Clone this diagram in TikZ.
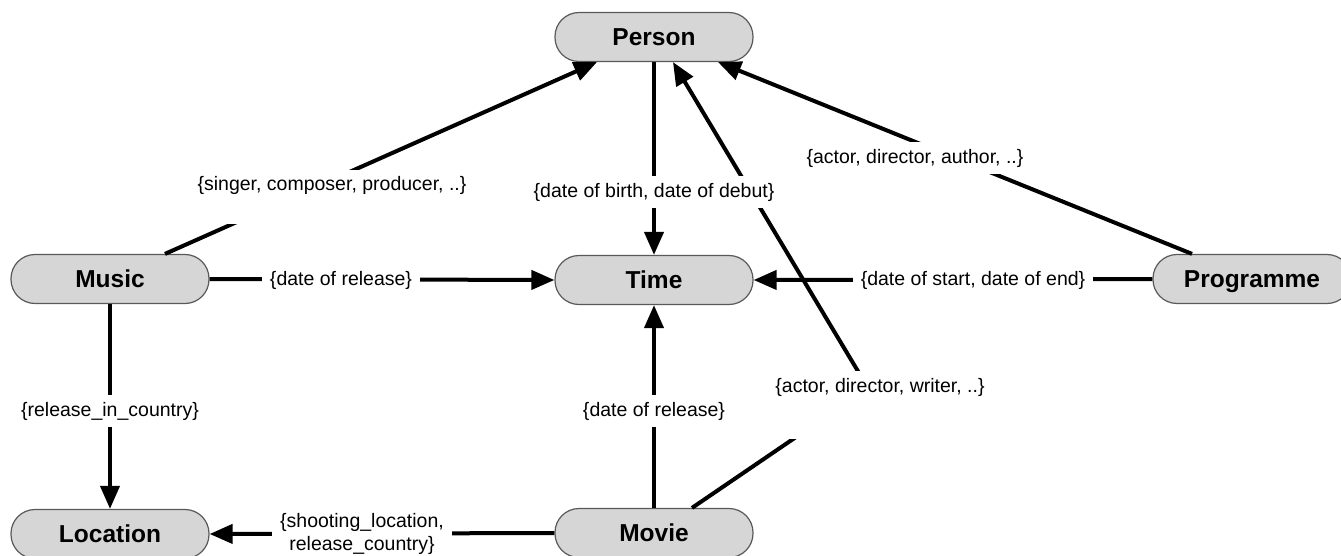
\documentclass[tikz,border=0pt]{standalone}
\usepackage{fontspec}
\setmainfont{Liberation Sans}
\usetikzlibrary{arrows.meta}
\begin{document}
\begin{tikzpicture}[x=1pt,y=-1pt,
  ent/.style={draw=black!65, line width=1.2pt, fill=black!16, rounded corners=24pt,
    minimum width=198pt, minimum height=49pt, inner sep=0pt, text height=17.5pt, text depth=0pt,
    font=\fontsize{24.5}{28}\selectfont\bfseries},
  lbl/.style={fill=white, font=\fontsize{19.5}{23}\selectfont, inner xsep=8pt, inner ysep=7pt, align=center},
  conn/.style={line width=4pt, -{Triangle[length=23pt,width=19pt]}}]
\useasboundingbox (0,0) rectangle (1341,556);
% entities
\node[ent] (person) at (654,37) {Person};
\node[ent] (music) at (110,279) {Music};
\node[ent] (time) at (654,280) {Time};
\node[ent] (prog) at (1252,279) {Programme};
\node[ent] (loc) at (110,534) {Location};
\node[ent] (movie) at (654,533) {Movie};
\coordinate (bend) at (868,388);
% connectors
\draw[conn] ([xshift=55pt]music.north) -- ([xshift=-57pt]person.south);
\draw[conn] (person.south) -- (time.north);
\draw[conn] ([xshift=-60pt]prog.north) -- ([xshift=64pt]person.south);
\draw[conn] ([xshift=38pt]movie.north) -- (bend) -- ([xshift=19pt]person.south);
\draw[conn] (music.east) -- (time.west);
\draw[conn] (prog.west) -- (time.east);
\draw[conn] (music.south) -- (loc.north);
\draw[conn] (movie.north) -- (time.south);
\draw[conn] (movie.west) -- (loc.east);
% labels
\node[lbl, anchor=base, text depth=26pt] (l1) at (332,191) {\{singer, composer, producer, ..\}};
\node[lbl] (l2) at (654,192) {\{date of birth, date of debut\}};
\node[lbl] (l3) at (915,158) {\{actor, director, author, ..\}};
\node[lbl, anchor=base, text depth=40pt] (l4) at (880,392) {\{actor, director, writer, ..\}};
\node[lbl] (l5) at (341,280) {\{date of release\}};
\node[lbl] (l6) at (973,280) {\{date of start, date of end\}};
\node[lbl] (l7) at (110,411) {\{release\_in\_country\}};
\node[lbl] (l8) at (654,411) {\{date of release\}};
\node[lbl, inner ysep=4pt] (l9) at (362,534) {\{shooting\_location,\\release\_country\}};
\end{tikzpicture}
\end{document}
